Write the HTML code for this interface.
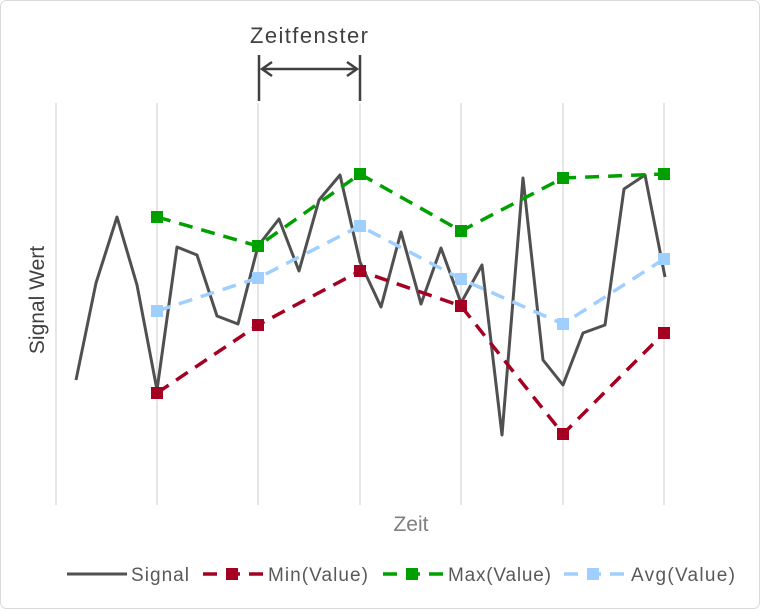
<!DOCTYPE html>
<html><head><style>body{margin:0;background:#fff}svg{display:block;font-family:"Liberation Sans",sans-serif}</style></head><body>
<svg width="760" height="609" viewBox="0 0 760 609">
<rect x="0.5" y="0.5" width="759" height="608" rx="6" fill="#fff" stroke="#d9d9d9"/>
<g stroke="#d9d9d9" stroke-width="1.3">
<line x1="56" y1="103" x2="56" y2="505"/><line x1="157" y1="103" x2="157" y2="505"/><line x1="258" y1="103" x2="258" y2="505"/><line x1="360" y1="103" x2="360" y2="505"/><line x1="461" y1="103" x2="461" y2="505"/><line x1="563" y1="103" x2="563" y2="505"/><line x1="664" y1="103" x2="664" y2="505"/>
</g>
<text x="309" y="43" font-size="22" text-anchor="middle" fill="#404040" textLength="118">Zeitfenster</text>
<g stroke="#404040" stroke-width="2.5" fill="none">
<line x1="259" y1="55" x2="259" y2="101"/><line x1="360" y1="55" x2="360" y2="101"/><line x1="262" y1="69" x2="357" y2="69"/>
<polyline points="272,62 262,69 272,76"/><polyline points="347,62 357,69 347,76"/>
</g>
<text transform="translate(44,300) rotate(-90)" font-size="21" text-anchor="middle" fill="#404040">Signal Wert</text>
<text x="411" y="531" font-size="21" text-anchor="middle" fill="#7f7f7f">Zeit</text>
<polyline fill="none" stroke="#505050" stroke-width="3" stroke-linejoin="round" points="76,380 96,283 117,217 137,285 157,390 177,247 197,255 217,316 238,324 258,246 279,219 299,271 319,200 340,175 360,262 381,307 401,232 421,304 441,248 461,303 482,265 502,435 523,178 543,360 563,385 583,333 605,325 624,189 645,175 665,277"/>
<g fill="none" stroke-width="3.5" stroke-dasharray="14,9">
<polyline stroke="#a50021" points="157,393 258,325 360,271 461,306 563,434 664,333"/>
<polyline stroke="#00a000" points="157,217 258,246 360,174 461,231 563,178 664,174"/>
<polyline stroke="#9fcfff" points="157,311 258,278 360,226 461,279 563,324 664,259"/>
</g>
<g fill="#a50021"><rect x="151" y="387" width="12" height="12"/><rect x="252" y="319" width="12" height="12"/><rect x="354" y="265" width="12" height="12"/><rect x="455" y="300" width="12" height="12"/><rect x="557" y="428" width="12" height="12"/><rect x="658" y="327" width="12" height="12"/></g>
<g fill="#00a000"><rect x="151" y="211" width="12" height="12"/><rect x="252" y="240" width="12" height="12"/><rect x="354" y="168" width="12" height="12"/><rect x="455" y="225" width="12" height="12"/><rect x="557" y="172" width="12" height="12"/><rect x="658" y="168" width="12" height="12"/></g>
<g fill="#9fcfff"><rect x="151" y="305" width="12" height="12"/><rect x="252" y="272" width="12" height="12"/><rect x="354" y="220" width="12" height="12"/><rect x="455" y="273" width="12" height="12"/><rect x="557" y="318" width="12" height="12"/><rect x="658" y="253" width="12" height="12"/></g>
<g font-size="19" fill="#595959">
<line x1="67" y1="574" x2="127" y2="574" stroke="#505050" stroke-width="3"/><text x="131" y="581" textLength="58">Signal</text>
<line x1="203" y1="574" x2="263" y2="574" stroke="#a50021" stroke-width="3.5" stroke-dasharray="14,9"/><rect x="226" y="568" width="12" height="12" fill="#a50021"/><text x="268" y="581" textLength="100">Min(Value)</text>
<line x1="383" y1="574" x2="443" y2="574" stroke="#00a000" stroke-width="3.5" stroke-dasharray="14,9"/><rect x="406" y="568" width="12" height="12" fill="#00a000"/><text x="448" y="581" textLength="103">Max(Value)</text>
<line x1="564" y1="574" x2="624" y2="574" stroke="#9fcfff" stroke-width="3.5" stroke-dasharray="14,9"/><rect x="587" y="568" width="12" height="12" fill="#9fcfff"/><text x="631" y="581" textLength="104">Avg(Value)</text>
</g>
</svg>
</body></html>
